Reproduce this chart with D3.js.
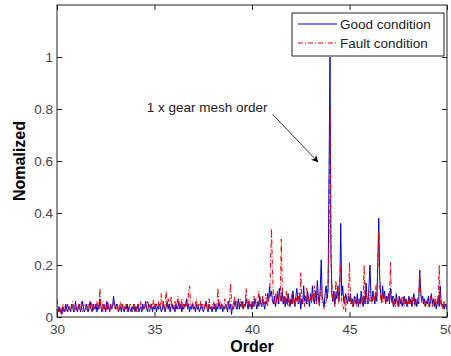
<!DOCTYPE html>
<html><head><meta charset="utf-8">
<script src="https://cdn.jsdelivr.net/npm/d3@7"></script>
<style>body{margin:0;background:#fff}svg{display:block}text{font-family:"Liberation Sans",Arial,sans-serif}</style>
</head><body><svg id="c" width="451" height="356"></svg>
<script>
const orderStart = 30, orderStep = 0.05;
const goodCondition = [
0.03,0.02,0.04,0.02,0.03,0.01,0.04,0.03,0.02,0.05,0.03,0.02,0.04,0.03,0.02,0.05,0.04,0.02,0.03,0.06,
0.03,0.02,0.04,0.05,0.02,0.03,0.06,0.04,0.02,0.03,0.05,0.03,0.02,0.04,0.06,0.03,0.02,0.05,0.04,0.03,
0.05,0.02,0.04,0.03,0.07,0.04,0.02,0.03,0.05,0.04,0.02,0.06,0.03,0.04,0.02,0.05,0.03,0.04,0.08,0.05,
0.03,0.05,0.04,0.02,0.03,0.04,0.02,0.05,0.03,0.02,0.04,0.03,0.05,0.02,0.04,0.03,0.02,0.04,0.03,0.05,
0.02,0.04,0.03,0.05,0.02,0.03,0.04,0.02,0.05,0.03,0.04,0.06,0.03,0.02,0.05,0.04,0.03,0.05,0.02,0.04,
0.03,0.05,0.02,0.04,0.03,0.05,0.04,0.02,0.03,0.05,0.03,0.02,0.04,0.06,0.03,0.05,0.02,0.04,0.05,0.03,
0.04,0.02,0.05,0.03,0.04,0.06,0.03,0.05,0.02,0.04,0.03,0.05,0.04,0.07,0.03,0.05,0.02,0.04,0.03,0.05,
0.03,0.04,0.02,0.05,0.03,0.04,0.02,0.03,0.05,0.04,0.02,0.03,0.04,0.06,0.03,0.02,0.05,0.03,0.04,0.02,
0.04,0.03,0.05,0.02,0.04,0.03,0.06,0.04,0.03,0.05,0.02,0.04,0.03,0.05,0.04,0.02,0.06,0.03,0.05,0.01,
0.04,0.03,0.05,0.06,0.03,0.04,0.07,0.03,0.05,0.04,0.06,0.03,0.05,0.04,0.07,0.05,0.03,0.06,0.04,0.05,
0.03,0.06,0.04,0.07,0.05,0.03,0.06,0.04,0.08,0.05,0.04,0.07,0.05,0.03,0.06,0.05,0.09,0.06,0.12,0.08,
0.10,0.06,0.05,0.08,0.04,0.06,0.09,0.05,0.11,0.07,0.06,0.10,0.05,0.08,0.04,0.07,0.05,0.09,0.06,0.04,
0.07,0.05,0.10,0.06,0.04,0.08,0.11,0.06,0.05,0.09,0.03,0.07,0.05,0.12,0.06,0.08,0.05,0.10,0.07,0.04,
0.09,0.06,0.12,0.07,0.05,0.10,0.06,0.14,0.08,0.05,0.11,0.22,0.08,0.06,0.04,0.09,0.12,0.07,0.10,0.55,
1.00,0.25,0.08,0.06,0.10,0.05,0.09,0.07,0.12,0.06,0.10,0.36,0.08,0.12,0.06,0.05,0.09,0.07,0.05,0.08,
0.06,0.09,0.05,0.07,0.04,0.08,0.06,0.05,0.09,0.04,0.07,0.05,0.10,0.06,0.04,0.08,0.05,0.13,0.07,0.05,
0.12,0.20,0.08,0.06,0.10,0.07,0.05,0.09,0.06,0.20,0.38,0.15,0.09,0.06,0.12,0.07,0.10,0.05,0.08,0.06,
0.09,0.05,0.11,0.06,0.08,0.04,0.07,0.05,0.09,0.06,0.04,0.08,0.05,0.07,0.04,0.06,0.08,0.05,0.07,0.04,
0.06,0.08,0.05,0.07,0.04,0.06,0.09,0.05,0.07,0.04,0.06,0.05,0.18,0.10,0.06,0.08,0.05,0.07,0.04,0.06,
0.05,0.08,0.04,0.06,0.09,0.05,0.07,0.04,0.06,0.03,0.05,0.08,0.04,0.12,0.06,0.04,0.05,0.03,0.05,0.04,
0.03];
const faultCondition = [
0.07,0.03,0.02,0.04,0.01,0.03,0.05,0.02,0.04,0.03,0.02,0.05,0.03,0.04,0.02,0.03,0.06,0.04,0.02,0.03,
0.04,0.02,0.05,0.03,0.04,0.06,0.02,0.03,0.05,0.04,0.03,0.02,0.05,0.04,0.03,0.06,0.04,0.02,0.05,0.03,
0.04,0.06,0.03,0.05,0.11,0.04,0.03,0.06,0.02,0.04,0.05,0.03,0.06,0.04,0.02,0.05,0.03,0.04,0.06,0.03,
0.04,0.03,0.05,0.02,0.04,0.06,0.03,0.05,0.02,0.04,0.03,0.05,0.02,0.04,0.03,0.05,0.04,0.02,0.03,0.05,
0.03,0.04,0.02,0.05,0.03,0.04,0.06,0.02,0.04,0.03,0.05,0.04,0.03,0.06,0.04,0.02,0.05,0.03,0.04,0.07,
0.04,0.03,0.05,0.04,0.06,0.03,0.05,0.09,0.04,0.06,0.03,0.05,0.10,0.04,0.07,0.05,0.03,0.08,0.04,0.05,
0.03,0.06,0.04,0.05,0.08,0.03,0.05,0.04,0.07,0.03,0.05,0.04,0.06,0.04,0.03,0.10,0.12,0.05,0.04,0.06,
0.04,0.03,0.05,0.07,0.03,0.05,0.04,0.06,0.03,0.05,0.04,0.03,0.06,0.04,0.05,0.03,0.07,0.04,0.03,0.05,
0.04,0.06,0.03,0.05,0.04,0.11,0.05,0.03,0.06,0.04,0.05,0.03,0.07,0.04,0.03,0.06,0.04,0.05,0.13,0.06,
0.03,0.05,0.08,0.04,0.06,0.03,0.05,0.04,0.07,0.05,0.03,0.06,0.04,0.05,0.11,0.06,0.04,0.07,0.03,0.05,
0.06,0.04,0.08,0.05,0.07,0.04,0.06,0.10,0.05,0.07,0.04,0.08,0.06,0.05,0.09,0.06,0.04,0.08,0.07,0.20,
0.34,0.18,0.07,0.05,0.09,0.06,0.10,0.08,0.05,0.07,0.30,0.12,0.06,0.08,0.05,0.10,0.06,0.04,0.08,0.05,
0.06,0.09,0.05,0.07,0.04,0.08,0.06,0.05,0.09,0.06,0.17,0.07,0.05,0.08,0.04,0.06,0.11,0.05,0.07,0.06,
0.08,0.05,0.09,0.06,0.12,0.07,0.05,0.10,0.06,0.04,0.08,0.12,0.06,0.05,0.03,0.04,0.06,0.09,0.12,0.30,
0.80,0.22,0.12,0.06,0.08,0.04,0.14,0.09,0.12,0.05,0.15,0.20,0.06,0.04,0.03,0.08,0.02,0.06,0.05,0.10,
0.21,0.05,0.07,0.04,0.06,0.05,0.08,0.04,0.06,0.05,0.07,0.04,0.06,0.08,0.05,0.20,0.06,0.09,0.05,0.07,
0.10,0.06,0.08,0.05,0.07,0.09,0.06,0.12,0.08,0.18,0.33,0.12,0.07,0.05,0.09,0.06,0.08,0.05,0.07,0.06,
0.09,0.06,0.21,0.07,0.05,0.08,0.06,0.04,0.07,0.05,0.06,0.04,0.07,0.05,0.08,0.06,0.04,0.07,0.05,0.06,
0.04,0.07,0.05,0.06,0.08,0.05,0.07,0.04,0.06,0.05,0.07,0.08,0.18,0.09,0.06,0.05,0.07,0.04,0.06,0.05,
0.07,0.04,0.06,0.08,0.05,0.04,0.06,0.05,0.08,0.04,0.06,0.05,0.20,0.07,0.04,0.05,0.03,0.06,0.04,0.05,
0.04];
const xTicks = [30,35,40,45,50];
const yTicks = [0,0.2,0.4,0.6,0.8,1];
const seriesNames = ["Good condition","Fault condition"];
const annotationText = "1 x gear mesh order";
const annotationAt = [34.6, 0.79];
const arrowFrom = [41.05, 0.78];
const arrowTo = [43.4, 0.595];

const svg = d3.select("#c");
const L=57, R=447, T=5, B=317;
const x = d3.scaleLinear().domain([30,50]).range([L,R]);
const y = d3.scaleLinear().domain([0,1.2]).range([B,T]);
const tickColor = "#444";
const blue = "#0000d0", red = "#f00000";

svg.append("rect").attr("x",L).attr("y",T).attr("width",R-L).attr("height",B-T).attr("fill","#fff");

const toPts = arr => arr.map((v,i)=>[orderStart+i*orderStep, v]);
const line = d3.line().x(d=>x(d[0])).y(d=>y(d[1]));
svg.append("clipPath").attr("id","pc").append("rect").attr("x",L).attr("y",T).attr("width",R-L).attr("height",B-T);
const g = svg.append("g").attr("clip-path","url(#pc)");
g.append("path").attr("d",line(toPts(goodCondition))).attr("fill","none").attr("stroke",blue).attr("stroke-width",1);
g.append("path").attr("d",line(toPts(faultCondition))).attr("fill","none").attr("stroke",red).attr("stroke-width",1).attr("stroke-dasharray","5,2,1,2");

const ax = svg.append("g").attr("transform",`translate(0,${B})`).call(d3.axisBottom(x).tickValues(xTicks).tickSize(-5).tickPadding(7).tickFormat(d3.format("d")));
const axT = svg.append("g").attr("transform",`translate(0,${T})`).call(d3.axisTop(x).tickValues(xTicks).tickSize(-5).tickFormat(""));
const ay = svg.append("g").attr("transform",`translate(${L},0)`).call(d3.axisLeft(y).tickValues(yTicks).tickSize(-5).tickPadding(4).tickFormat(d=>d===0?"0":d3.format("")(d)));
const ayR = svg.append("g").attr("transform",`translate(${R},0)`).call(d3.axisRight(y).tickValues(yTicks).tickSize(-5).tickFormat(""));
[ax,axT,ay,ayR].forEach(a=>{a.select(".domain").remove(); a.selectAll("line").attr("stroke","#222");});
[ax,ay].forEach(a=>a.selectAll("text").attr("fill",tickColor).style("font-size","13.5px").style("font-family","'Liberation Sans',Arial,sans-serif"));
svg.append("rect").attr("x",L).attr("y",T).attr("width",R-L).attr("height",B-T).attr("fill","none").attr("stroke","#222").attr("stroke-width",1);

svg.append("text").attr("x",(L+R)/2).attr("y",352).attr("text-anchor","middle").style("font-size","16px").style("font-weight","bold").text("Order");
svg.append("text").attr("transform",`translate(25,${(T+B)/2}) rotate(-90)`).attr("text-anchor","middle").style("font-size","16px").style("font-weight","bold").text("Nomalized");

svg.append("defs").append("marker").attr("id","ah").attr("viewBox","0 0 10 10").attr("refX",10).attr("refY",5).attr("markerWidth",9).attr("markerHeight",7).attr("orient","auto").attr("markerUnits","userSpaceOnUse")
  .append("path").attr("d","M0,0 L10,5 L0,10 L3,5 Z").attr("fill","#000");
svg.append("line").attr("x1",x(arrowFrom[0])).attr("y1",y(arrowFrom[1])).attr("x2",x(arrowTo[0])).attr("y2",y(arrowTo[1])).attr("stroke","#333").attr("stroke-width",1).attr("marker-end","url(#ah)");
svg.append("text").attr("x",x(annotationAt[0])).attr("y",y(annotationAt[1])).style("font-size","13.5px").attr("fill","#222").text(annotationText);

const lg = svg.append("g");
lg.append("rect").attr("x",292).attr("y",13).attr("width",152).attr("height",43).attr("fill","#fff").attr("stroke","#222");
const lstyles = [{c:blue,d:null},{c:red,d:"5,2,1,2"}];
seriesNames.forEach((n,i)=>{
  const yy = 24 + i*19;
  lg.append("line").attr("x1",298).attr("x2",337).attr("y1",yy).attr("y2",yy).attr("stroke",lstyles[i].c).attr("stroke-dasharray",lstyles[i].d);
  lg.append("text").attr("x",340).attr("y",yy+5).style("font-size","13.5px").attr("fill","#222").text(n);
});
</script></body></html>
